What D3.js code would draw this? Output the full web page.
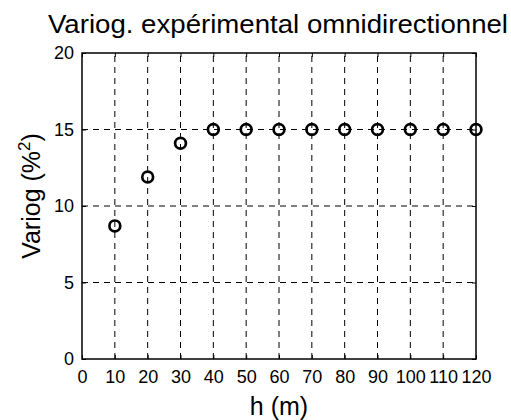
<!DOCTYPE html>
<html>
<head>
<meta charset="utf-8">
<script src="https://cdn.jsdelivr.net/npm/d3@7"></script>
<style>
  body { margin: 0; background: #fff; }
  text { font-family: "Liberation Sans", Arial, sans-serif; fill: #000; }
</style>
</head>
<body>
<svg id="chart" width="511" height="420"></svg>
<script>
const lags = [10, 20, 30, 40, 50, 60, 70, 80, 90, 100, 110, 120];
const gamma = [8.7, 11.9, 14.1, 15, 15, 15, 15, 15, 15, 15, 15, 15];
const xTicks = [0, 10, 20, 30, 40, 50, 60, 70, 80, 90, 100, 110, 120];
const yTicks = [0, 5, 10, 15, 20];

const width = 511, height = 420;
const margin = {top: 53, right: 35, bottom: 61, left: 82};

let svg = d3.select('#chart');

let x = d3.scaleLinear()
  .domain([0, 120])
  .range([margin.left, width - margin.right]);

let y = d3.scaleLinear()
  .domain([0, 20])
  .range([height - margin.bottom, margin.top]);

// grid
let grid = svg.append('g')
  .attr('stroke', '#000')
  .attr('stroke-width', 1)
  .attr('stroke-dasharray', '6,5');

grid.selectAll('.vx')
  .data(xTicks.slice(1, -1))
  .join('line')
  .attr('x1', d => x(d)).attr('x2', d => x(d))
  .attr('y1', y(0)).attr('y2', y(20));

grid.selectAll('.hy')
  .data(yTicks.slice(1, -1))
  .join('line')
  .attr('x1', x(0)).attr('x2', x(120))
  .attr('y1', d => y(d)).attr('y2', d => y(d));

// axes, MATLAB style: ticks pointing inward, box all round
svg.append('g')
  .attr('transform', `translate(0,${y(0)})`)
  .call(d3.axisBottom(x).tickValues(xTicks).tickSize(-4).tickPadding(11))
  .call(g => g.select('.domain').remove())
  .selectAll('text').attr('font-size', 18);

svg.append('g')
  .attr('transform', `translate(${x(0)},0)`)
  .call(d3.axisLeft(y).tickValues(yTicks).tickSize(-4).tickPadding(8))
  .call(g => g.select('.domain').remove())
  .selectAll('text').attr('font-size', 18);

svg.append('g')
  .attr('transform', `translate(0,${y(20)})`)
  .call(d3.axisTop(x).tickValues(xTicks).tickSize(-4).tickFormat(''))
  .call(g => g.select('.domain').remove());

svg.append('g')
  .attr('transform', `translate(${x(120)},0)`)
  .call(d3.axisRight(y).tickValues(yTicks).tickSize(-4).tickFormat(''))
  .call(g => g.select('.domain').remove());

svg.append('rect')
  .attr('x', x(0)).attr('y', y(20))
  .attr('width', x(120) - x(0)).attr('height', y(0) - y(20))
  .attr('fill', 'none')
  .attr('stroke', '#000')
  .attr('stroke-width', 1.5);

// points
svg.append('g')
  .selectAll('circle')
  .data(lags)
  .join('circle')
  .attr('cx', d => x(d))
  .attr('cy', (d, i) => y(gamma[i]))
  .attr('r', 5.4)
  .attr('fill', 'none')
  .attr('stroke', '#000')
  .attr('stroke-width', 2.7);

// labels
svg.append('text')
  .attr('x', 278).attr('y', 33)
  .attr('text-anchor', 'middle')
  .attr('font-size', 26)
  .attr('textLength', 460)
  .attr('lengthAdjust', 'spacingAndGlyphs')
  .text('Variog. expérimental omnidirectionnel');

svg.append('text')
  .attr('x', x(60)).attr('y', 415)
  .attr('text-anchor', 'middle')
  .attr('font-size', 25)
  .text('h (m)');

let yl = svg.append('text')
  .attr('transform', `translate(40,196) rotate(-90)`)
  .attr('text-anchor', 'middle')
  .attr('font-size', 25);
yl.append('tspan').text('Variog (%');
yl.append('tspan').attr('dy', -10).attr('font-size', 17).text('2');
yl.append('tspan').attr('dy', 10).text(')');
</script>
</body>
</html>
